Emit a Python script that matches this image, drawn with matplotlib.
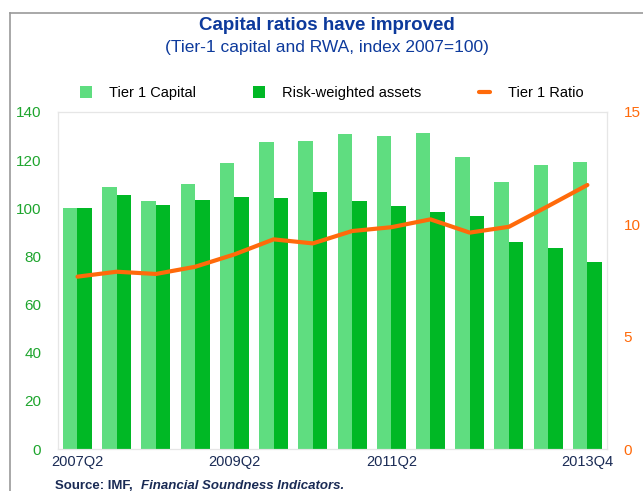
import matplotlib.pyplot as plt
import numpy as np
from matplotlib.lines import Line2D

plt.rcParams['font.family'] = ['Liberation Sans', 'DejaVu Sans']

# data (half-yearly, 2007Q2 .. 2013Q4)
periods = ['2007Q2', '2007Q4', '2008Q2', '2008Q4', '2009Q2', '2009Q4', '2010Q2',
           '2010Q4', '2011Q2', '2011Q4', '2012Q2', '2012Q4', '2013Q2', '2013Q4']
tier1_capital = [100, 109, 103, 110, 119, 127.5, 128, 130.7, 130.2, 131.2, 121.2, 111, 118, 119.2]
rwa = [100, 105.4, 101.2, 103.3, 104.7, 104.3, 106.8, 103, 101, 98.5, 96.8, 86, 83.5, 77.7]
tier1_ratio = [7.67, 7.89, 7.79, 8.11, 8.66, 9.33, 9.15, 9.70, 9.87, 10.22, 9.63, 9.89, 10.81, 11.75]
shown_ticks = ['2007Q2', '2009Q2', '2011Q2', '2013Q4']

light = '#5fdd80'
dark = '#00b825'
orange = '#ff6a0a'
navy = '#0d3a9c'

fig = plt.figure(figsize=(6.43, 4.91), dpi=100)
ax = fig.add_axes([0.090, 0.0855, 0.854, 0.6865])
ax2 = ax.twinx()

x = np.arange(len(periods))
w = 0.37
ax.bar(x - w / 2, tier1_capital, w, color=light, label='Tier 1 Capital', zorder=2)
ax.bar(x + w / 2, rwa, w, color=dark, label='Risk-weighted assets', zorder=2)
ax2.plot(x, tier1_ratio, color=orange, lw=3, label='Tier 1 Ratio', solid_capstyle='round')

ax.set_xlim(-0.5, len(periods) - 0.5)
ax.set_ylim(0, 140)
ax.set_yticks(range(0, 141, 20))
ax2.set_ylim(0, 15)
ax2.set_yticks([0, 5, 10, 15])

ax.set_xticks([periods.index(p) for p in shown_ticks])
ax.set_xticklabels(shown_ticks)

ax.tick_params(axis='x', length=0, pad=4, labelsize=10.5, labelcolor='#1a2b55')
ax.tick_params(axis='y', length=0, pad=12, labelsize=11, labelcolor='#1ea52e')
ax2.tick_params(axis='y', length=0, pad=12, labelsize=11, labelcolor=orange)

for a in (ax, ax2):
    for s in a.spines.values():
        s.set_color('#e6e6e6')
        s.set_linewidth(0.8)

fig.text(0.508, 0.948, 'Capital ratios have improved', ha='center', va='center',
         fontsize=13.5, fontweight='bold', color=navy)
fig.text(0.508, 0.903, '(Tier-1 capital and RWA, index 2007=100)', ha='center', va='center',
         fontsize=12.5, color=navy)

handles = [ax.patches[0], ax.patches[len(periods)], ax2.lines[0]]
labels = ['Tier 1 Capital', 'Risk-weighted assets', 'Tier 1 Ratio']
fig.legend(handles, labels, loc='center', bbox_to_anchor=(0.516, 0.81), ncol=3,
           frameon=False, fontsize=10.5, handlelength=0.8, handleheight=0.9,
           columnspacing=3.9, handletextpad=1.2)

fig.text(0.085, 0.004, 'Source: IMF, ', fontsize=9.5, fontweight='bold', color='#1a2b55')
fig.text(0.219, 0.004, 'Financial Soundness Indicators.', fontsize=9.5, fontweight='bold',
         style='italic', color='#1a2b55')

# outer frame (top and left edges only are visible)
fig.add_artist(Line2D([0.016, 1.0], [0.974, 0.974], color='#9a9a9a', lw=1.2))
fig.add_artist(Line2D([0.016, 0.016], [0.0, 0.974], color='#9a9a9a', lw=1.2))

fig.savefig('out.png', dpi=100)
